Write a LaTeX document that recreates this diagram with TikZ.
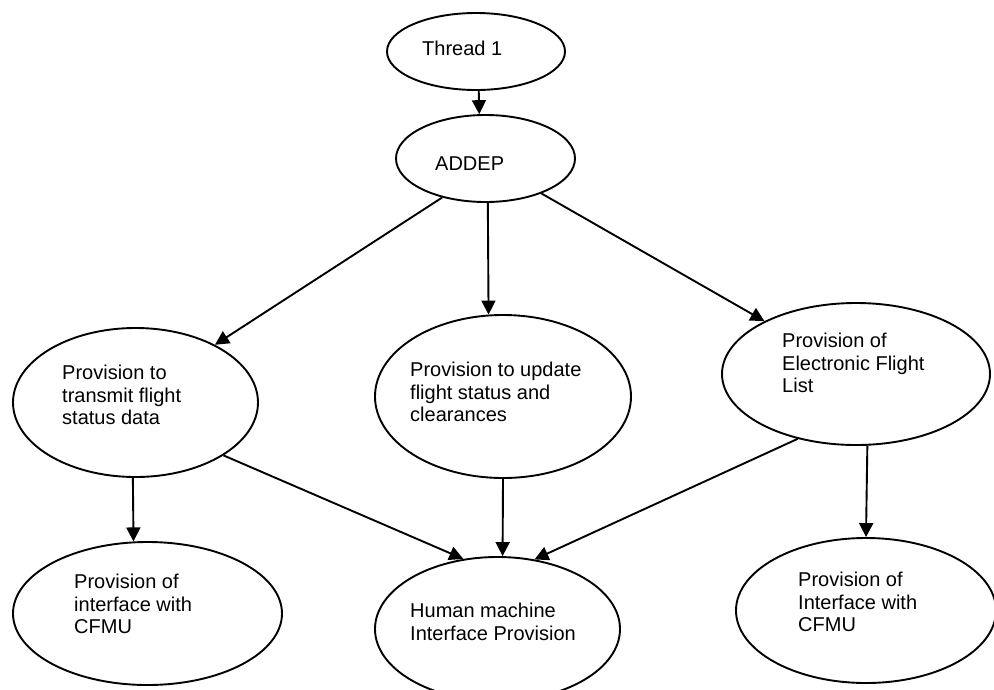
\documentclass[tikz,border=0pt]{standalone}
\usepackage{fontspec}
\setmainfont{Liberation Sans}
\usetikzlibrary{shapes.geometric,arrows.meta}

\begin{document}
\begin{tikzpicture}[
    x=1pt, y=-1pt,
    blob/.style={
        ellipse,
        draw,
        line width=1.9pt,
        inner sep=0pt,
    },
    txt/.style={
        anchor=north west,
        align=left,
        inner sep=0pt,
        font=\fontsize{20}{22.5}\selectfont,
    },
    arr/.style={draw, line width=1.9pt, -{Triangle[length=14pt,width=14pt]}},
    ]
    \useasboundingbox (0,0) rectangle (994,689);

    % ellipses
    \node[blob, minimum width=178pt, minimum height=77pt] (thread) at (476,51.5) {};
    \node[blob, minimum width=179pt, minimum height=87pt] (addep) at (485.5,158.5) {};
    \node[blob, minimum width=245pt, minimum height=149pt] (transmit) at (135.5,402.5) {};
    \node[blob, minimum width=256pt, minimum height=163pt] (update) at (503,396.5) {};
    \node[blob, minimum width=268pt, minimum height=142pt] (efl) at (856,374) {};
    \node[blob, minimum width=269pt, minimum height=143pt] (cfmuleft) at (147.5,613.5) {};
    \node[blob, minimum width=245pt, minimum height=144pt] (hmi) at (497.5,629) {};
    \node[blob, minimum width=260pt, minimum height=145pt] (cfmuright) at (866,610.5) {};

    % texts
    \node[txt] (threadtxt) at (422,41) {Thread 1};
    \node[txt] (addeptxt) at (435,157) {ADDEP};
    \node[txt] (transmittxt) at (62,365) {Provision to\\transmit flight\\status data};
    \node[txt] (updatetxt) at (410,362) {Provision to update\\flight status and\\clearances};
    \node[txt] (efltxt) at (782,333) {Provision of\\Electronic Flight\\List};
    \node[txt] (cfmulefttxt) at (74,574) {Provision of\\interface with\\CFMU};
    \node[txt] (hmitxt) at (410,603) {Human machine\\Interface Provision};
    \node[txt] (cfmurighttxt) at (798,572) {Provision of\\Interface with\\CFMU};

    % connectors
    \draw[arr] (thread.-86) -- (addep.98);
    \draw[arr] (addep.222) -- (transmit.36);
    \draw[arr] (addep.-87) -- (update.100);
    \draw[arr] (addep.-32) -- (efl.150);
    \draw[arr] (transmit.-92) -- (cfmuleft.101);
    \draw[arr] (transmit.-31) -- (hmi.116);
    \draw[arr] (update.-90) -- (hmi.86);
    \draw[arr] (efl.228) -- (hmi.62);
    \draw[arr] (efl.-81) -- (cfmuright.90);
\end{tikzpicture}
\end{document}
